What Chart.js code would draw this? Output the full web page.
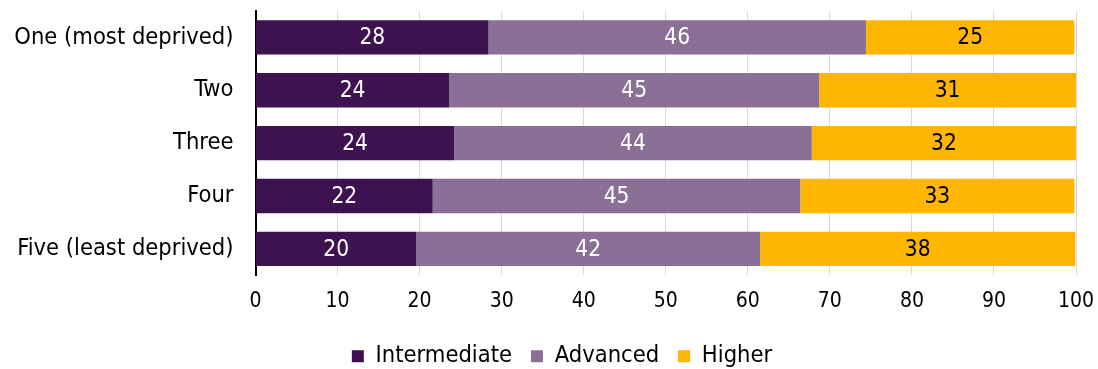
<!DOCTYPE html>
<html>
<head>
<meta charset="utf-8">
<script src="https://cdn.jsdelivr.net/npm/chart.js@4"></script>
<style>
    html, body { margin: 0; padding: 0; background: #fff; }
    #wrap { width: 1098px; height: 369px; }
</style>
</head>
<body>
<div id="wrap"><canvas id="chart" width="1098" height="369"></canvas></div>
<script>
// Data
const categories = ['One (most deprived)', 'Two', 'Three', 'Four', 'Five (least deprived)'];
const intermediate = [28.4, 23.6, 24.2, 21.6, 19.6];
const advanced = [46.0, 45.1, 43.6, 44.8, 41.9];
const higher = [25.4, 31.3, 32.2, 33.4, 38.4];
const xTicks = [0, 10, 20, 30, 40, 50, 60, 70, 80, 90, 100];

const FONT = '"DejaVu Sans Condensed", "DejaVu Sans", sans-serif';

// Writes the rounded value in the middle of every bar segment
const barValues = {
    id: 'barValues',
    afterDatasetsDraw(chart) {
        const ctx = chart.ctx;
        ctx.save();
        ctx.font = '22.5px ' + FONT;
        ctx.textAlign = 'center';
        ctx.textBaseline = 'middle';
        chart.data.datasets.forEach((ds, i) => {
            const meta = chart.getDatasetMeta(i);
            meta.data.forEach((bar, j) => {
                const cx = (bar.x + bar.base) / 2;
                ctx.fillStyle = ds.labelColor;
                ctx.fillText(Math.round(ds.data[j]), cx, bar.y + 1);
            });
        });
        ctx.restore();
    }
};

// legend sits a little right of the page centre and closer to the axis
const legendNudge = {
    id: 'legendNudge',
    afterLayout(chart) {
        const lg = chart.legend;
        lg.left += 18;
        lg.right += 18;
        lg.top -= 3;
        lg.bottom -= 3;
    }
};

// no extra room around the axes for tick labels, the layout padding handles it
const noEdgePadding = axis => {
    axis.paddingTop = 0;
    axis.paddingBottom = 0;
    axis.paddingLeft = 0;
    axis.paddingRight = 0;
};

new Chart(document.getElementById('chart'), {
    type: 'bar',
    data: {
        labels: categories,
        datasets: [
            { label: 'Intermediate', data: intermediate, backgroundColor: '#3e1151', labelColor: '#ffffff' },
            { label: 'Advanced', data: advanced, backgroundColor: '#8a7096', labelColor: '#ffffff' },
            { label: 'Higher', data: higher, backgroundColor: '#ffb600', labelColor: '#000000' }
        ]
    },
    options: {
        indexAxis: 'y',
        responsive: false,
        animation: false,
        layout: { padding: { top: 11, right: 22, left: 12, bottom: -12 } },
        datasets: {
            bar: { categoryPercentage: 1, barPercentage: 0.65 }
        },
        plugins: {
            legend: {
                position: 'bottom',
                labels: {
                    font: { family: FONT, size: 23.5 },
                    color: '#000',
                    boxWidth: 12,
                    boxHeight: 12,
                    padding: 19
                }
            },
            tooltip: { enabled: false }
        },
        scales: {
            x: {
                stacked: true,
                min: 0,
                max: 100,
                afterBuildTicks: axis => { axis.ticks = xTicks.map(v => ({ value: v })); },
                afterFit: noEdgePadding,
                grid: { color: '#d9d9d9', drawTicks: false },
                border: { display: false },
                ticks: {
                    font: { family: FONT, size: 21 },
                    color: '#000',
                    padding: 14
                }
            },
            y: {
                stacked: true,
                afterFit: axis => {
                    noEdgePadding(axis);
                    axis.width = 243.5;
                },
                grid: { display: false, drawTicks: false },
                border: { display: true, color: '#000', width: 2 },
                ticks: {
                    font: { family: FONT, size: 23.5 },
                    color: '#000',
                    padding: 22
                }
            }
        }
    },
    plugins: [barValues, legendNudge]
});
</script>
</body>
</html>
